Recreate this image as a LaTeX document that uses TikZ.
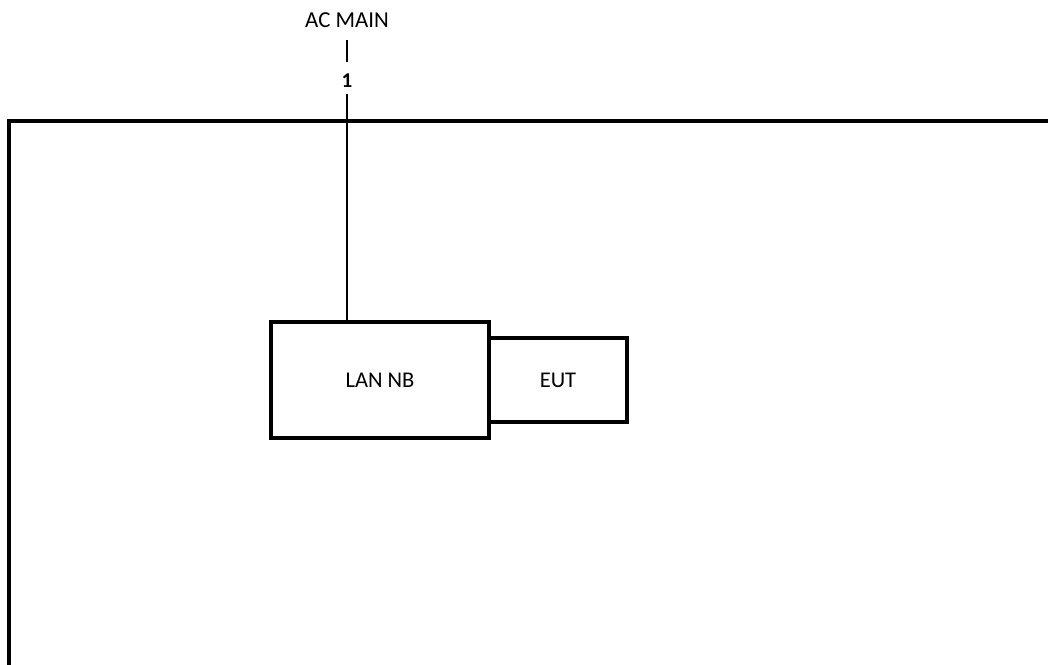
\documentclass[tikz,border=0pt]{standalone}
\usepackage{fontspec}
\setmainfont{Carlito}
\usepackage{tikz}
\usetikzlibrary{positioning}

\begin{document}
\begin{tikzpicture}[
    x=0.02cm, y=-0.02cm,
    unit/.style={
        rectangle,
        draw=black,
        line width=1.9pt,
        font=\fontsize{12.8}{14}\selectfont,
        inner sep=0pt,
        outer sep=0pt,
    },
    lbl/.style={font=\fontsize{13}{15}\selectfont, inner sep=1pt},
    wire/.style={line width=1.5pt}
]
\useasboundingbox (0,0) rectangle (1048,664);
\clip (0,0) rectangle (1048,664);

% ground plane / table outline
\draw[line width=2.2pt] (9,700) -- (9,121) -- (1100,121);

\node[lbl] (acmain) at (347,20) {AC MAIN};
\node[lbl, font=\bfseries\fontsize{12}{14}\selectfont] (p1) at (347,81) {1};

\node[unit, minimum width=4.36cm, minimum height=2.32cm] (lannb) at (380,380) {LAN NB};
\node[unit, minimum width=2.76cm, minimum height=1.68cm, anchor=west] (eut) at (lannb.east) {EUT};

\draw[wire] ([yshift=-0.2cm]acmain.south) -- ([yshift=0.2cm]p1.north);
\draw[wire] ([yshift=-0.08cm]p1.south) -- (p1.south |- lannb.north);
\end{tikzpicture}
\end{document}
